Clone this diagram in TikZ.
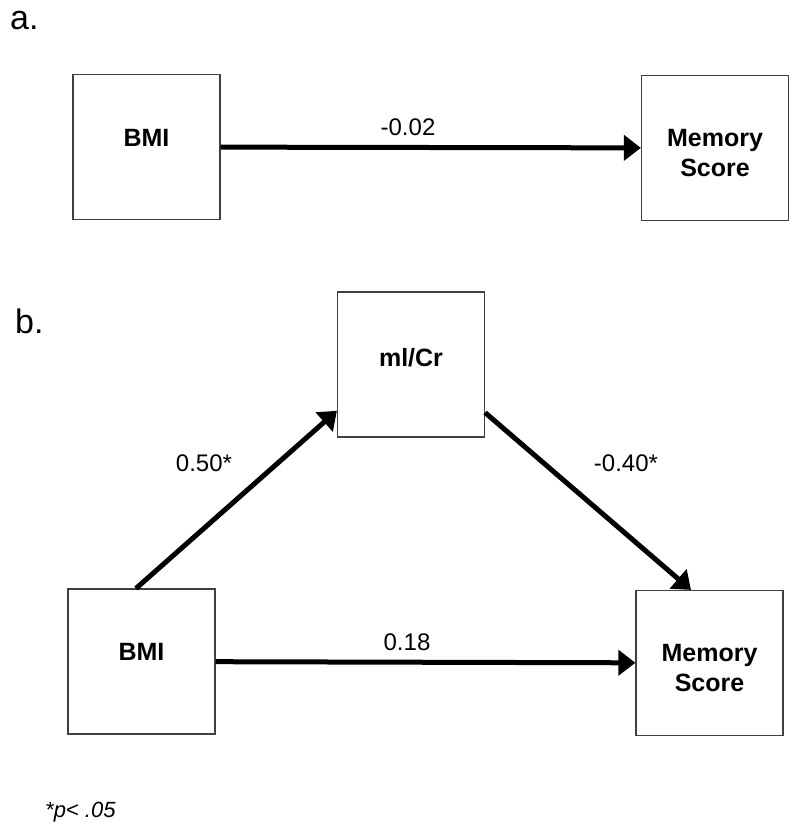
\documentclass[tikz,border=0pt]{standalone}
\usepackage{fontspec}
\setmainfont{Liberation Sans}
\usetikzlibrary{arrows.meta}
\begin{document}
\begin{tikzpicture}[x=1pt,y=-1pt,
  box/.style={draw=black!75,line width=1.2pt,minimum width=147pt,minimum height=145pt,inner sep=0pt},
  boxtext/.style={anchor=north,inner sep=0pt,align=center,font=\fontsize{25}{30}\selectfont\bfseries},
  coef/.style={inner sep=0pt,font=\fontsize{24}{28}\selectfont},
  panel/.style={anchor=base west,inner sep=0pt,font=\fontsize{34}{40}\selectfont},
  conn/.style={line width=5pt,-{Triangle[length=17pt,width=25pt]}}]
\useasboundingbox (0,0) rectangle (800,833);
% panel a
\node[panel] (la) at (10,29) {a.};
\node[box] (abmi) at (146.5,147) {};
\node[box] (amem) at (715,148) {};
\node[boxtext] (tabmi) at (146.5,129) {BMI};
\node[boxtext] (tamem) at (715,129) {Memory\\Score};
\draw[conn] (abmi) -- (amem);
\node[coef] (ca) at (408,127.5) {-0.02};
% panel b
\node[panel] (lb) at (15,333) {b.};
\node[box] (mlcr) at (411,364.5) {};
\node[box] (bbmi) at (141.5,661.5) {};
\node[box] (bmem) at (709.5,663) {};
\node[boxtext] (tmlcr) at (411,348) {ml/Cr};
\node[boxtext] (tbbmi) at (141.5,643) {BMI};
\node[boxtext] (tbmem) at (709.5,644) {Memory\\Score};
\draw[conn] ([xshift=-5.5pt]bbmi.north) -- (mlcr.212.7);
\draw[conn] (mlcr.327) -- ([xshift=-18.5pt]bmem.north);
\draw[conn] (bbmi) -- (bmem);
\node[coef] (c1) at (204,463) {0.50*};
\node[coef] (c2) at (626,463) {-0.40*};
\node[coef] (c3) at (407,642.5) {0.18};
\node[anchor=base west,inner sep=0pt,font=\fontsize{22}{26}\selectfont\itshape] (note) at (45,817) {*p< .05};
\end{tikzpicture}
\end{document}
